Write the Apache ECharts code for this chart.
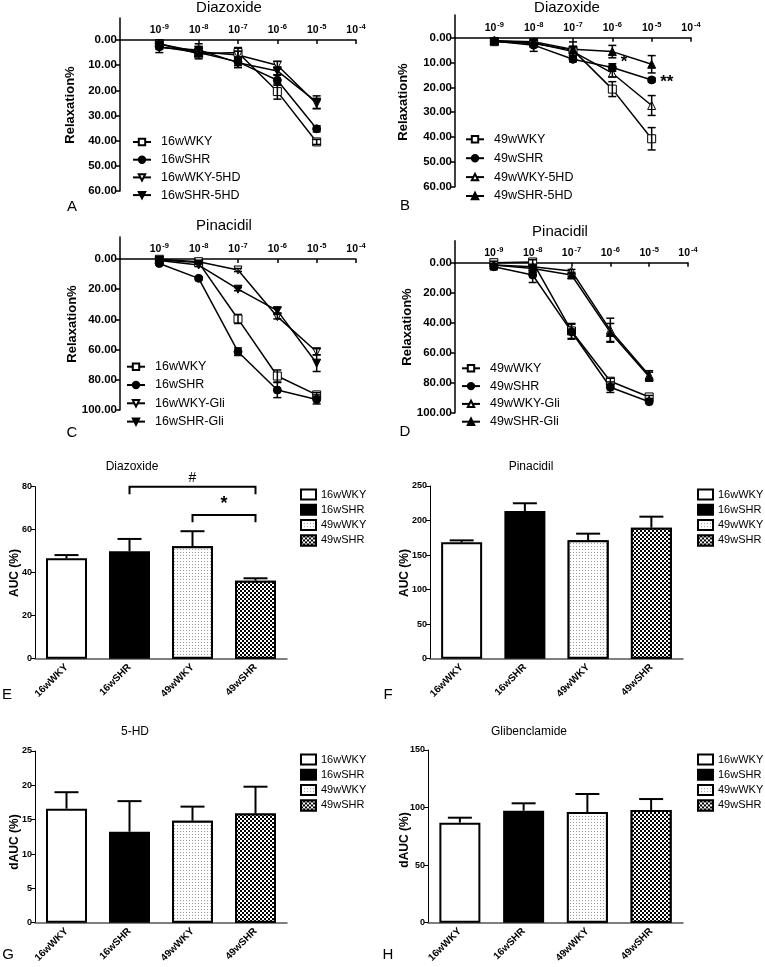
<!DOCTYPE html>
<html><head><meta charset="utf-8">
<script src="https://cdn.jsdelivr.net/npm/echarts@6/dist/echarts.min.js"></script>
<style>html,body{margin:0;padding:0;background:#fff}#c{width:765px;height:967px}</style>
</head><body><div id="c"></div>
<script>
const FF = '"Liberation Sans", Arial, sans-serif';

// ---------- shared axis data ----------
const concentrations = [1e-9, 1e-8, 1e-7, 1e-6, 1e-5];
const xTickExponents = [-9, -8, -7, -6, -5, -4];
const yTicksDiazoxide = [0, 10, 20, 30, 40, 50, 60];
const yTicksPinacidil = [0, 20, 40, 60, 80, 100];
const barCategories = ['16wWKY', '16wSHR', '49wWKY', '49wSHR'];

// ---------- Panel A: Diazoxide, 16 w ----------
const A_names = ['16wWKY', '16wSHR', '16wWKY-5HD', '16wSHR-5HD'];
const A_16wWKY = [1.5, 5.5, 5.0, 20.5, 40.5];
const A_16wWKY_err = [1.5, 2.0, 2.0, 3.0, 1.0];
const A_16wSHR = [2.7, 5.0, 8.7, 16.0, 35.3];
const A_16wSHR_err = [1.0, 1.5, 1.5, 2.0, 1.2];
const A_16wWKY5HD = [1.6, 4.7, 6.0, 10.0, 25.3];
const A_16wWKY5HD_err = [1.0, 1.5, 1.5, 1.5, 2.0];
const A_16wSHR5HD = [3.0, 4.0, 9.0, 12.3, 24.7];
const A_16wSHR5HD_err = [2.0, 2.5, 2.0, 1.5, 2.5];

// ---------- Panel B: Diazoxide, 49 w ----------
const B_names = ['49wWKY', '49wSHR', '49wWKY-5HD', '49wSHR-5HD'];
const B_49wWKY = [1.6, 2.3, 5.0, 20.7, 40.7];
const B_49wWKY_err = [1.0, 1.0, 1.5, 3.0, 4.5];
const B_49wSHR = [1.3, 3.0, 8.7, 12.0, 17.0];
const B_49wSHR_err = [1.0, 2.5, 1.0, 1.5, 0.8];
const B_49wWKY5HD = [1.2, 2.0, 5.6, 14.3, 27.3];
const B_49wWKY5HD_err = [1.0, 1.0, 1.5, 1.5, 4.0];
const B_49wSHR5HD = [1.2, 1.6, 4.7, 5.6, 10.7];
const B_49wSHR5HD_err = [1.0, 1.0, 3.0, 2.5, 3.5];
const B_marks = ['', '', '', '*', '**'];

// ---------- Panel C: Pinacidil, 16 w ----------
const C_names = ['16wWKY', '16wSHR', '16wWKY-Gli', '16wSHR-Gli'];
const C_16wWKY = [0.7, 2.4, 39.7, 77.5, 90.0];
const C_16wWKY_err = [1.0, 1.0, 3.0, 4.0, 1.5];
const C_16wSHR = [3.0, 12.8, 61.4, 86.8, 93.0];
const C_16wSHR_err = [1.0, 1.0, 2.5, 5.0, 3.0];
const C_16wWKYGli = [0.2, 1.8, 7.3, 38.2, 61.4];
const C_16wWKYGli_err = [0.5, 1.0, 1.0, 1.5, 2.0];
const C_16wSHRGli = [1.0, 4.0, 20.0, 34.2, 69.0];
const C_16wSHRGli_err = [0.5, 1.0, 1.0, 2.0, 5.5];

// ---------- Panel D: Pinacidil, 49 w ----------
const D_names = ['49wWKY', '49wSHR', '49wWKY-Gli', '49wSHR-Gli'];
const D_49wWKY = [0.0, -0.5, 45.5, 79.0, 89.5];
const D_49wWKY_err = [1.0, 1.5, 5.0, 2.0, 1.0];
const D_49wSHR = [2.7, 8.2, 46.0, 83.0, 92.7];
const D_49wSHR_err = [2.0, 5.0, 5.0, 3.5, 1.0];
const D_49wWKYGli = [1.5, 2.7, 5.5, 45.0, 75.0];
const D_49wWKYGli_err = [1.0, 1.0, 1.0, 8.0, 3.0];
const D_49wSHRGli = [1.5, 3.8, 8.2, 46.5, 76.0];
const D_49wSHRGli_err = [1.0, 1.0, 1.0, 6.0, 3.0];

// ---------- Bar panels ----------
const E_values = [46.7, 50.0, 52.3, 36.3];
const E_err = [1.5, 5.7, 7.0, 1.1];
const E_brackets = [[1, 3, 80, 76.5], [2, 3, 66.8, 63.5]];
const E_bracketLabels = ['#', '*'];
const F_values = [168.4, 213.8, 171.3, 189.7];
const F_err = [2.9, 11.2, 9.7, 15.9];
const G_values = [16.6, 13.25, 14.85, 15.9];
const G_err = [2.4, 4.45, 2.05, 3.9];
const H_values = [86.9, 97.3, 96.1, 97.9];
const H_err = [4.3, 6.4, 15.7, 9.5];

// ---------- styling helpers ----------
const SYM = {
  openSquare: {symbol: 'rect', rot: 0, fill: '#fff'},
  filledCircle: {symbol: 'circle', rot: 0, fill: '#000'},
  openDown: {symbol: 'triangle', rot: 180, fill: '#fff'},
  filledDown: {symbol: 'triangle', rot: 180, fill: '#000'},
  openUp: {symbol: 'triangle', rot: 0, fill: '#fff'},
  filledUp: {symbol: 'triangle', rot: 0, fill: '#000'}
};

const grids = [
  {left: 120, top: 40, width: 236, height: 151},     // 0 A
  {left: 455, top: 37.7, width: 236, height: 149},   // 1 B
  {left: 120, top: 259, width: 236, height: 151},    // 2 C
  {left: 455, top: 262.7, width: 233, height: 150},  // 3 D
  {left: 35, top: 486.7, width: 252, height: 172},   // 4 E
  {left: 430, top: 486, width: 253, height: 172.7},  // 5 F
  {left: 35, top: 751, width: 252, height: 171.7},   // 6 G
  {left: 428, top: 750, width: 255, height: 172.7},  // 7 H
  // y-axis extensions above the zero line of A-D
  {left: 120, top: 18, width: 1, height: 22},
  {left: 455, top: 15, width: 1, height: 22.7},
  {left: 120, top: 237, width: 1, height: 22},
  {left: 455, top: 240.7, width: 1, height: 22}
];

const xAxes = [], yAxes = [], series = [], legends = [];

function lineXAxis(gi) {
  return {
    gridIndex: gi, type: 'value', min: -10, max: -4, position: 'top',
    axisLine: {onZero: false, lineStyle: {color: '#000', width: 1.5}},
    axisTick: {show: true, inside: true, length: 4, customValues: xTickExponents, lineStyle: {color: '#000', width: 1.5}},
    axisLabel: {
      customValues: xTickExponents, margin: 4,
      formatter: v => '{b|10}{s|' + v + '}',
      rich: {
        b: {fontSize: 10.5, fontWeight: 'bold', fontFamily: FF, color: '#000', lineHeight: 13, verticalAlign: 'bottom'},
        s: {fontSize: 7.5, fontWeight: 'bold', fontFamily: FF, color: '#000', lineHeight: 13, verticalAlign: 'top', padding: [0, 0, 0, 1]}
      }
    },
    splitLine: {show: false}
  };
}
function lineYAxis(gi, max, ticks) {
  return {
    gridIndex: gi, type: 'value', inverse: true, min: 0, max: max, interval: ticks[1] - ticks[0],
    axisLine: {show: true, onZero: false, lineStyle: {color: '#000', width: 1.5}},
    axisTick: {show: true, length: 4, customValues: ticks, lineStyle: {color: '#000', width: 1.5}},
    axisLabel: {customValues: ticks, formatter: v => v.toFixed(2), fontWeight: 'bold', fontSize: 11.5, fontFamily: FF, color: '#000', margin: 3},
    splitLine: {show: false}
  };
}
function addLinePanel(gi, names, valsList, errList, syms, legendPos, max, ticks, marks) {
  xAxes[gi] = lineXAxis(gi);
  yAxes[gi] = lineYAxis(gi, max, ticks);
  names.forEach((nm, k) => {
    const s = SYM[syms[k]];
    const vals = valsList[k];
    series.push({
      type: 'line', name: nm, xAxisIndex: gi, yAxisIndex: gi,
      data: concentrations.map((c, i) => {
        const item = {value: [Math.log10(c), vals[i]]};
        if (marks && k === 1 && marks[i]) {
          item.label = {show: true, formatter: marks[i], position: 'right', distance: 4,
            offset: [0, marks[i] === '*' ? -5 : 2], fontSize: 17, fontWeight: 'bold', fontFamily: FF, color: '#000'};
        }
        return item;
      }),
      symbol: s.symbol, symbolRotate: s.rot, symbolSize: 8, showSymbol: true, clip: false,
      itemStyle: {color: s.fill, borderColor: '#000', borderWidth: 1},
      lineStyle: {color: '#000', width: 1.5},
      emphasis: {disabled: true}, z: 3
    });
    series.push({
      type: 'custom', name: 'err_' + gi + '_' + k, xAxisIndex: gi, yAxisIndex: gi,
      data: concentrations.map((c, i) => [Math.log10(c), vals[i], errList[k][i]]),
      encode: {x: 0, y: 1}, clip: false,
      renderItem: (p, api) => {
        const x = api.value(0), y = api.value(1), e = api.value(2);
        const a = api.coord([x, y - e]), b = api.coord([x, y + e]);
        const w = 4;
        const st = {stroke: '#000', lineWidth: 1.5};
        return {type: 'group', children: [
          {type: 'line', shape: {x1: a[0], y1: a[1], x2: b[0], y2: b[1]}, style: st},
          {type: 'line', shape: {x1: a[0] - w, y1: a[1], x2: a[0] + w, y2: a[1]}, style: st},
          {type: 'line', shape: {x1: b[0] - w, y1: b[1], x2: b[0] + w, y2: b[1]}, style: st}
        ]};
      },
      silent: true, z: 4
    });
  });
  legends.push(Object.assign({
    data: names, orient: 'vertical', padding: 0, itemWidth: 18, itemHeight: 8,
    selectedMode: false,
    textStyle: {fontSize: 12.5, fontFamily: FF, color: '#000', lineHeight: 14, padding: [0, 0, 0, 5]}
  }, legendPos));
  // y-axis extension above the zero line
  const ext = gi + 8;
  xAxes[ext] = {gridIndex: ext, type: 'value', show: false};
  yAxes[ext] = {gridIndex: ext, type: 'value', min: 0, max: 1,
    axisLine: {show: true, onZero: false, lineStyle: {color: '#000', width: 1.5}},
    axisTick: {show: false}, axisLabel: {show: false}, splitLine: {show: false}};
}

const barStyles = [
  {color: '#fff'},
  {color: '#000'},
  {color: '#fff', decal: {symbol: 'rect', symbolSize: 1, color: '#9a9a9a', backgroundColor: '#fff', dashArrayX: [1, 2], dashArrayY: [1, 2]}},
  {color: '#fff', decal: {symbol: 'rect', symbolSize: 1, color: '#000', backgroundColor: '#fff', dashArrayX: [[2, 2], [0, 2, 2, 0]], dashArrayY: [2, 0]}}
];

function addBarPanel(gi, vals, errs, max, interval, legendPos) {
  xAxes[gi] = {
    gridIndex: gi, type: 'category', data: barCategories,
    axisLine: {lineStyle: {color: '#555', width: 1.5}},
    axisTick: {alignWithLabel: true, length: 4, lineStyle: {color: '#000', width: 1}},
    axisLabel: {rotate: 45, interval: 0, fontSize: 10, fontWeight: 'bold', fontFamily: FF, color: '#000', margin: 7}
  };
  yAxes[gi] = {
    gridIndex: gi, type: 'value', min: 0, max: max, interval: interval,
    axisLine: {show: true, lineStyle: {color: '#000', width: 1}},
    axisTick: {show: true, length: 4, lineStyle: {color: '#000', width: 1}},
    axisLabel: {fontSize: 9, fontWeight: 'bold', fontFamily: FF, color: '#000', margin: 3},
    splitLine: {show: false}
  };
  barCategories.forEach((cat, i) => {
    series.push({
      type: 'bar', name: 'bar:' + cat, xAxisIndex: gi, yAxisIndex: gi,
      data: vals.map((v, j) => j === i ? v : '-'),
      barWidth: 41, barGap: '-100%',
      itemStyle: Object.assign({borderColor: '#000', borderWidth: 2}, barStyles[i]),
      emphasis: {disabled: true}, z: 2
    });
  });
  series.push({
    type: 'custom', name: 'barerr_' + gi, xAxisIndex: gi, yAxisIndex: gi,
    data: vals.map((v, i) => [i, v, errs[i]]),
    encode: {x: 0, y: 1},
    renderItem: (p, api) => {
      const c = api.value(0), v = api.value(1), e = api.value(2);
      const b = api.coord([c, v]), t = api.coord([c, v + e]);
      const w = 12, st = {stroke: '#000', lineWidth: 2};
      return {type: 'group', children: [
        {type: 'line', shape: {x1: b[0], y1: b[1], x2: t[0], y2: t[1]}, style: st},
        {type: 'line', shape: {x1: t[0] - w, y1: t[1], x2: t[0] + w, y2: t[1]}, style: st}
      ]};
    },
    silent: true, z: 5
  });
  legends.push(Object.assign({
    data: barCategories.map(c => 'bar:' + c), formatter: n => n.replace('bar:', ''),
    orient: 'vertical', padding: 0, itemWidth: 15, itemHeight: 10, itemGap: 2.3,
    icon: 'rect', selectedMode: false,
    textStyle: {fontSize: 11, fontFamily: FF, color: '#000', lineHeight: 13}
  }, legendPos));
}

// line panels
addLinePanel(0, A_names, [A_16wWKY, A_16wSHR, A_16wWKY5HD, A_16wSHR5HD],
  [A_16wWKY_err, A_16wSHR_err, A_16wWKY5HD_err, A_16wSHR5HD_err],
  ['openSquare', 'filledCircle', 'openDown', 'filledDown'], {left: 132, top: 135, itemGap: 3.7}, 60, yTicksDiazoxide);
addLinePanel(1, B_names, [B_49wWKY, B_49wSHR, B_49wWKY5HD, B_49wSHR5HD],
  [B_49wWKY_err, B_49wSHR_err, B_49wWKY5HD_err, B_49wSHR5HD_err],
  ['openSquare', 'filledCircle', 'openUp', 'filledUp'], {left: 465, top: 132.3, itemGap: 4.9}, 60, yTicksDiazoxide, B_marks);
addLinePanel(2, C_names, [C_16wWKY, C_16wSHR, C_16wWKYGli, C_16wSHRGli],
  [C_16wWKY_err, C_16wSHR_err, C_16wWKYGli_err, C_16wSHRGli_err],
  ['openSquare', 'filledCircle', 'openDown', 'filledDown'], {left: 126, top: 359.7, itemGap: 4.3}, 100, yTicksPinacidil);
addLinePanel(3, D_names, [D_49wWKY, D_49wSHR, D_49wWKYGli, D_49wSHRGli],
  [D_49wWKY_err, D_49wSHR_err, D_49wWKYGli_err, D_49wSHRGli_err],
  ['openSquare', 'filledCircle', 'openUp', 'filledUp'], {left: 461, top: 361.3, itemGap: 3.8}, 100, yTicksPinacidil);

// bar panels
addBarPanel(4, E_values, E_err, 80, 20, {left: 300, top: 488});
addBarPanel(5, F_values, F_err, 250, 50, {left: 697, top: 488});
addBarPanel(6, G_values, G_err, 25, 5, {left: 300, top: 753});
addBarPanel(7, H_values, H_err, 150, 50, {left: 697, top: 753});

// significance brackets in E
series.push({
  type: 'custom', name: 'brackets', xAxisIndex: 4, yAxisIndex: 4,
  data: E_brackets, encode: {x: 0, y: 2}, clip: false,
  renderItem: (p, api) => {
    const a = api.value(0), b = api.value(1), y = api.value(2), yl = api.value(3);
    const p1 = api.coord([a, y]), p2 = api.coord([b, y]);
    const l1 = api.coord([a, yl]);
    const lbl = E_bracketLabels[p.dataIndex];
    return {type: 'group', children: [
      {type: 'polyline', shape: {points: [[p1[0], l1[1]], [p1[0], p1[1]], [p2[0], p2[1]], [p2[0], l1[1]]]},
        style: {stroke: '#000', lineWidth: 2, fill: null}},
      {type: 'text', x: (p1[0] + p2[0]) / 2, y: p1[1] - 2,
        style: {text: lbl, textAlign: 'center', textVerticalAlign: 'bottom',
          font: (lbl === '*' ? 'bold 18px ' : '14px ') + FF, fill: '#000'}}
    ]};
  },
  silent: true, z: 6
});

// ---------- text (titles, axis names, panel letters) ----------
function txt(t, x, y, size, opts) {
  opts = opts || {};
  return {type: 'text', x: x, y: y, rotation: opts.rot || 0, silent: true,
    style: {text: t, textAlign: opts.align || 'center', textVerticalAlign: 'middle',
      font: (opts.bold ? 'bold ' : 'normal ') + size + 'px ' + FF, fill: '#000'}};
}
const R = Math.PI / 2;
const graphics = [
  txt('Diazoxide', 229, 8, 15), txt('Diazoxide', 567, 8, 15),
  txt('Pinacidil', 224, 226, 15), txt('Pinacidil', 560, 232, 15),
  txt('Diazoxide', 132, 467, 12), txt('Pinacidil', 531, 467, 12),
  txt('5-HD', 135, 732, 12), txt('Glibenclamide', 529, 732, 12),
  txt('Relaxation%', 70, 105, 13, {rot: R, bold: true}),
  txt('Relaxation%', 403, 102, 13, {rot: R, bold: true}),
  txt('Relaxation%', 72, 324, 13, {rot: R, bold: true}),
  txt('Relaxation%', 407, 327, 13, {rot: R, bold: true}),
  txt('AUC (%)', 15, 573, 12, {rot: R, bold: true}),
  txt('AUC (%)', 405, 573, 12, {rot: R, bold: true}),
  txt('dAUC (%)', 15, 842, 12, {rot: R, bold: true}),
  txt('dAUC (%)', 405, 840, 12, {rot: R, bold: true}),
  txt('A', 72, 207, 15), txt('B', 405, 206, 15),
  txt('C', 72, 433, 15), txt('D', 405, 432, 15),
  txt('E', 7, 695, 15), txt('F', 388, 695, 15),
  txt('G', 8, 955, 15), txt('H', 388, 955, 15)
];

const chart = echarts.init(document.getElementById('c'), null, {renderer: 'canvas'});
chart.setOption({
  animation: false,
  backgroundColor: '#fff',
  grid: grids,
  xAxis: xAxes,
  yAxis: yAxes,
  legend: legends,
  series: series,
  graphic: graphics
});
</script></body></html>
